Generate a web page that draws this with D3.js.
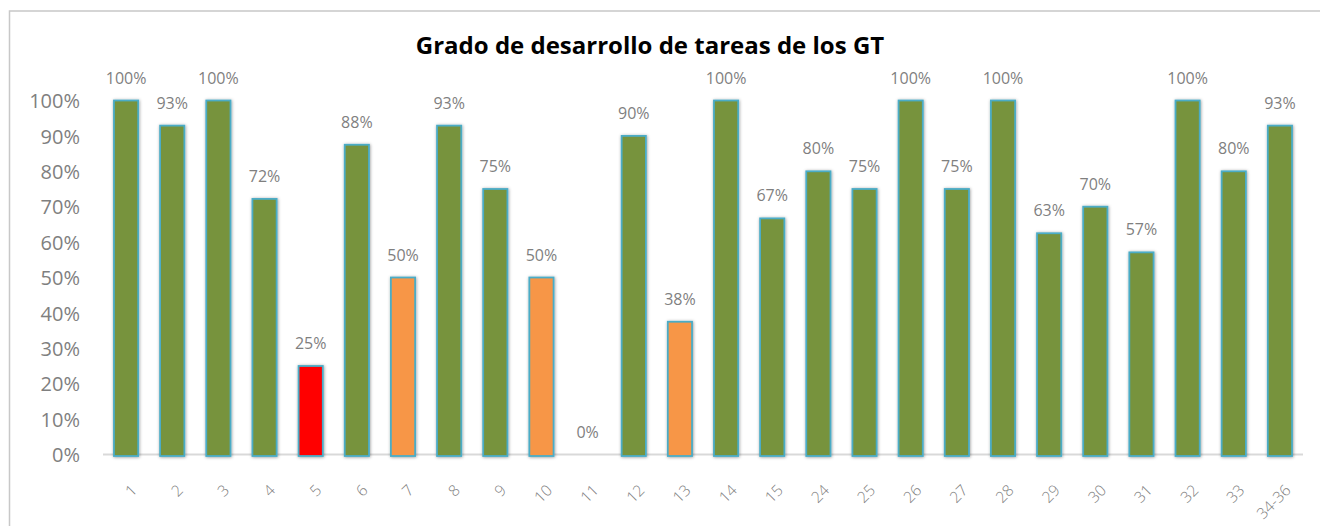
<!DOCTYPE html>
<html>
<head>
<meta charset="utf-8">
<script src="https://cdn.jsdelivr.net/npm/d3@7"></script>
<style>
  html, body { margin: 0; padding: 0; background: #fff; }
  svg { display: block; }
</style>
</head>
<body>
<svg id="chart" width="1320" height="526"></svg>
<script>
const title = "Grado de desarrollo de tareas de los GT";
const categories = ["1","2","3","4","5","6","7","8","9","10","11","12","13","14","15","24","25","26","27","28","29","30","31","32","33","34-36"];
const values = [1.00, 0.929, 1.00, 0.722, 0.25, 0.875, 0.50, 0.929, 0.75, 0.50, 0.00, 0.90, 0.375, 1.00, 0.667, 0.80, 0.75, 1.00, 0.75, 1.00, 0.625, 0.70, 0.571, 1.00, 0.80, 0.929];
const statuses = ["ok","ok","ok","ok","low","ok","mid","ok","ok","mid","ok","ok","mid","ok","ok","ok","ok","ok","ok","ok","ok","ok","ok","ok","ok","ok"];
const yTicks = [0, 0.1, 0.2, 0.3, 0.4, 0.5, 0.6, 0.7, 0.8, 0.9, 1.0];

const fillColor = {ok: "#77933C", mid: "#F79646", low: "#FF0000"};

const svg = d3.select("#chart");
const plot = {left: 103, right: 1303, top: 100.5, bottom: 454.5};

// outer chart border (top + left visible)
svg.append("rect")
  .attr("x", 9.5).attr("y", 11)
  .attr("width", 1400).attr("height", 600)
  .attr("fill", "#fff").attr("stroke", "#c8c8c8").attr("stroke-width", 1.5);

const defs = svg.append("defs");
const f = defs.append("filter").attr("id", "shadow")
  .attr("x", "-30%").attr("y", "-10%").attr("width", "160%").attr("height", "120%");
f.append("feDropShadow").attr("dx", 0.5).attr("dy", 0.5)
  .attr("stdDeviation", 1.6).attr("flood-color", "#000").attr("flood-opacity", 0.4);

const x = d3.scaleBand().domain(categories).range([plot.left, plot.right]).paddingInner(0.475).paddingOuter(0.2375);
const y = d3.scaleLinear().domain([0, 1]).range([plot.bottom, plot.top]);

// title
svg.append("text")
  .attr("x", 650).attr("y", 54)
  .attr("text-anchor", "middle")
  .attr("font-family", "'Open Sans', sans-serif")
  .attr("font-weight", "bold")
  .attr("font-size", 24)
  .attr("fill", "#000")
  .text(title);

// y axis
const yAxis = d3.axisLeft(y).tickValues(yTicks).tickFormat(d3.format(".0%")).tickSize(0).tickPadding(0);
const gy = svg.append("g").attr("transform", `translate(${80},0)`).call(yAxis);
gy.select(".domain").remove();
gy.selectAll("text")
  .attr("font-family", "'Open Sans', sans-serif")
  .attr("font-size", 20)
  .attr("fill", "#7f7f7f")
  .attr("dy", "0.36em");

// x axis baseline and rotated tick labels
const xAxis = d3.axisBottom(x).tickSize(0).tickPadding(0);
const gx = svg.append("g").attr("transform", `translate(0,${plot.bottom})`).call(xAxis);
gx.select(".domain").attr("stroke", "#d9d9d9").attr("stroke-width", 2)
  .attr("d", `M${plot.left},0H${plot.right}`);
gx.selectAll(".tick text")
  .attr("font-family", "'Open Sans', sans-serif")
  .attr("font-size", 15.5)
  .attr("font-weight", 300)
  .attr("fill", "#7f7f7f")
  .attr("text-anchor", "end")
  .attr("x", 0).attr("y", 0)
  .attr("dy", "0.35em")
  .attr("transform", "translate(8,33) rotate(-45)");

// bars
const data = categories.map((c, i) => ({c, v: values[i], s: statuses[i]}));
svg.append("g").selectAll("rect").data(data.filter(d => d.v > 0)).join("rect")
  .attr("x", d => x(d.c))
  .attr("y", d => y(d.v))
  .attr("width", x.bandwidth())
  .attr("height", d => y(0) - y(d.v) + 1.5)
  .attr("fill", d => fillColor[d.s])
  .attr("stroke", "#4BACC6")
  .attr("stroke-width", 1.8)
  .attr("filter", "url(#shadow)");

// data labels
svg.append("g").selectAll("text").data(data).join("text")
  .attr("x", d => x(d.c) + x.bandwidth()/2)
  .attr("y", d => y(d.v) - 17)
  .attr("text-anchor", "middle")
  .attr("font-family", "'Open Sans', sans-serif")
  .attr("font-size", 16)
  .attr("fill", "#7f7f7f")
  .text(d => d3.format(".0%")(d.v));
</script>
</body>
</html>
